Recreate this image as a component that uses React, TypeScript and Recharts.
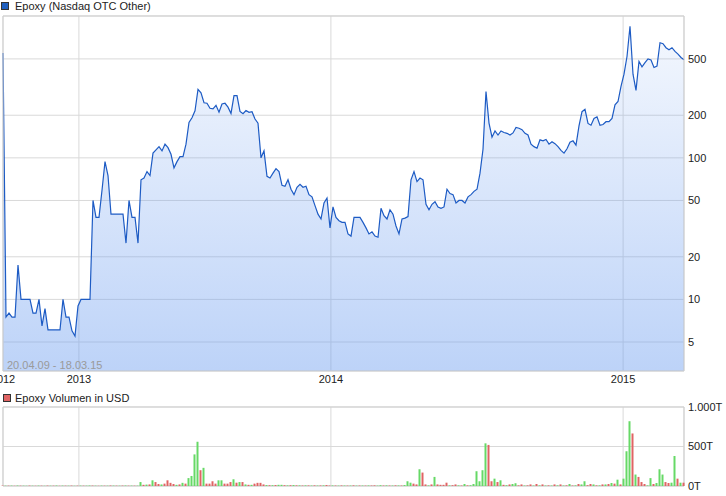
import React from "react";
import {
  AreaChart,
  Area,
  BarChart,
  Bar,
  Cell,
  XAxis,
  YAxis,
  CartesianGrid,
  ReferenceArea,
} from "recharts";

// closing price per trading step (USD)
const PRICE = [
  550, 7.5, 8, 7.5, 7.5, 17.5, 10, 10, 10, 10,
  8, 8, 10, 6.5, 8.6, 6.1, 6.1, 6.1, 6.1, 6.1,
  10, 7.5, 7.5, 6, 5.5, 9, 10, 10, 10, 10,
  50, 38, 38, 59, 94, 75, 40, 40, 40, 40,
  40, 25, 50, 38, 38, 25, 70, 72, 80, 75,
  108, 114, 120, 112, 125, 118, 106, 85, 94, 102,
  102, 125, 178, 192, 215, 305, 288, 245, 243, 224,
  222, 235, 210, 240, 243, 228, 206, 275, 275, 213,
  205, 216, 210, 212, 188, 176, 100, 112, 74, 72,
  78, 84, 80, 64, 63, 70, 60, 55, 62, 65,
  62, 63, 55, 53, 46, 40, 37, 48, 52, 32,
  45, 38, 36, 35, 35, 29, 28, 38, 38, 38,
  35, 32, 29, 30, 28, 27.5, 44, 39, 37, 43,
  40, 33, 29, 37, 37.5, 38.5, 70, 80, 68, 72,
  70, 47, 43, 47, 49, 45, 44, 45, 60, 56,
  55, 48, 50, 50, 48, 53, 55, 58, 60, 78,
  115, 294, 176, 140, 155, 145, 155, 151, 149, 145,
  150, 164, 162, 158, 149, 145, 125, 120, 117, 134,
  132, 135, 125, 130, 126, 120, 113, 108, 116, 129,
  132, 123, 168, 212, 220, 175, 170, 190, 195, 170,
  172, 180, 180, 190, 237, 250, 320, 390, 520, 850,
  390, 300, 480, 440, 470, 500, 492, 435, 445, 650,
  640, 600, 580, 600, 565, 540, 512, 494,
];

// volume in thousands (T); sign = direction (+ green, - red)
const VOLUME = [
  -5, 4, -4, 5, -3, 6, -4, 4, 3, -5,
  4, -3, 5, -4, 3, -5, 4, -4, 6, -3,
  5, -4, 4, -5, 3, -4, 5, -4, 4, 6,
  -5, 4, -3, 5, -4, 4, -6, 5, -4, 4,
  -5, 6, -4, 5, -4, 4, 50, -15, 18, -20,
  72, -50, -25, 20, -30, -72, -40, -25, 15, -20,
  40, -30, 100, 127, 400, 560, -200, 230, -30, -30,
  -60, -30, 72, 72, -30, -30, -50, 85, -42, 50,
  -50, 20, -15, 15, -30, -40, -40, -20, 12, -10,
  10, -12, 15, 15, -10, 8, -10, 12, -8, 8,
  -6, 8, -7, 6, -8, 6, -7, 8, -12, -6,
  7, -6, 5, -7, 6, -5, 6, -8, 5, -6,
  6, -5, 7, -6, -8, 5, 10, -6, 8, -6,
  6, -8, 7, -6, 12, 60, 42, -30, -20, 212,
  -170, -20, 8, -20, 115, -20, -15, -15, -42, 8,
  -10, -20, 8, -6, 25, -8, 10, 25, 187, 60,
  200, 540, -520, -60, 93, -50, 72, -15, 10, -20,
  25, 35, -8, -20, 6, -8, -20, 6, -25, 8,
  -20, 6, -8, 6, -20, 8, -20, 6, -8, 25,
  -6, 8, -25, 20, 60, -10, -25, 20, -8, 8,
  -20, 20, -25, 38, -30, 80, -20, 93, 440, 820,
  -665, 145, -115, -50, -25, 8, 100, -25, 38, 212,
  145, -50, -38, 42, 380, -93, 42, -42,
];

// year starts, in trading-step units
const YEAR_TICKS = [0, 25.3, 109.3, 206.7];
const YEAR_LABELS = ["2012", "2013", "2014", "2015"];
const PRICE_TICKS = [5, 10, 20, 50, 100, 200, 500];
const VOLUME_TICKS = [0, 500, 1000];

const LAST = PRICE.length - 1;
const PRICE_DOMAIN: [number, number] = [3.12, 1005];

const LINE = "#1d5bc4";
const GREEN = "#66d966";
const RED = "#e06464";
const GRID = "#d9d9d9";
const FONT = "'Liberation Sans', Arial, sans-serif";

const priceData = PRICE.map((p, i) => ({ i, price: p }));
const volumeData = VOLUME.map((v, i) => ({ i, vol: Math.abs(v), up: v > 0 }));

const tickStyle = { fontSize: 11, fill: "#222", fontFamily: FONT };

function yearLabel(v: number) {
  const k = YEAR_TICKS.indexOf(v);
  return k >= 0 ? YEAR_LABELS[k] : "";
}

function volumeLabel(v: number) {
  return v >= 1000 ? `${(v / 1000).toFixed(3)}T` : `${v}T`;
}

function LegendKey({ top, left, color, label }: { top: number; left: number; color: string; label: string }) {
  return (
    <>
      <div
        style={{
          position: "absolute",
          left,
          top: top + 1,
          width: 6,
          height: 6,
          background: color,
          border: "1px solid #333",
        }}
      />
      <div
        style={{
          position: "absolute",
          left: 15,
          top,
          fontSize: 11,
          lineHeight: "11px",
          color: "#222",
          whiteSpace: "nowrap",
        }}
      >
        {label}
      </div>
    </>
  );
}

export default function App() {
  return (
    <div
      style={{
        position: "absolute",
        left: 0,
        top: 0,
        width: 726,
        height: 496,
        background: "#fff",
        fontFamily: FONT,
        overflow: "hidden",
      }}
    >
      <LegendKey top={1} left={1} color="#1f5fbf" label="Epoxy (Nasdaq OTC Other)" />

      <div style={{ position: "absolute", left: 0, top: 0 }}>
        <AreaChart
          width={726}
          height={390}
          data={priceData}
          margin={{ top: 16, right: 0, bottom: 0, left: 3 }}
        >
          <defs>
            <linearGradient id="priceFill" x1="0" y1="0" x2="0" y2="1">
              <stop offset="0%" stopColor="#6f9ff0" stopOpacity={0.08} />
              <stop offset="100%" stopColor="#6f9ff0" stopOpacity={0.46} />
            </linearGradient>
          </defs>
          <CartesianGrid stroke={GRID} />
          <XAxis
            dataKey="i"
            type="number"
            domain={[0, LAST]}
            ticks={YEAR_TICKS}
            interval={0}
            tickFormatter={yearLabel}
            axisLine={false}
            tickLine={false}
            tickSize={2}
            tickMargin={2}
            height={19}
            tick={tickStyle}
          />
          <YAxis
            orientation="right"
            scale="log"
            domain={PRICE_DOMAIN}
            allowDataOverflow
            ticks={PRICE_TICKS}
            interval={0}
            axisLine={false}
            tickLine={false}
            tickSize={2}
            tickMargin={2}
            width={42}
            tick={{ ...tickStyle, textAnchor: "start" }}
          />
          <Area
            type="linear"
            dataKey="price"
            baseValue="dataMin"
            stroke={LINE}
            strokeWidth={1.2}
            fill="url(#priceFill)"
            fillOpacity={1}
            dot={false}
            activeDot={false}
            isAnimationActive={false}
          />
          <ReferenceArea
            x1={0}
            x2={LAST}
            y1={PRICE_DOMAIN[0]}
            y2={PRICE_DOMAIN[1]}
            fill="none"
            stroke="#cfcfcf"
          />
        </AreaChart>
      </div>

      <div
        style={{
          position: "absolute",
          left: 7,
          top: 360,
          fontSize: 11,
          lineHeight: "11px",
          color: "#9a9a9a",
          whiteSpace: "nowrap",
        }}
      >
        20.04.09 - 18.03.15
      </div>

      <LegendKey top={393} left={3} color={RED} label="Epoxy Volumen in USD" />

      <div style={{ position: "absolute", left: 0, top: 390 }}>
        <BarChart
          width={726}
          height={106}
          data={volumeData}
          margin={{ top: 17, right: 0, bottom: 10, left: 3 }}
        >
          <CartesianGrid stroke={GRID} />
          <XAxis
            dataKey="i"
            type="number"
            domain={[0, LAST]}
            ticks={YEAR_TICKS}
            interval={0}
            hide
          />
          <YAxis
            orientation="right"
            domain={[0, 1000]}
            ticks={VOLUME_TICKS}
            interval={0}
            tickFormatter={volumeLabel}
            axisLine={false}
            tickLine={false}
            tickSize={2}
            tickMargin={2}
            width={42}
            tick={{ ...tickStyle, textAnchor: "start" }}
          />
          <Bar dataKey="vol" barSize={2} isAnimationActive={false}>
            {volumeData.map((d, k) => (
              <Cell key={`v-${k}`} fill={d.up ? GREEN : RED} />
            ))}
          </Bar>
          <ReferenceArea x1={0} x2={LAST} y1={0} y2={1000} fill="none" stroke="#cfcfcf" />
        </BarChart>
      </div>
    </div>
  );
}
